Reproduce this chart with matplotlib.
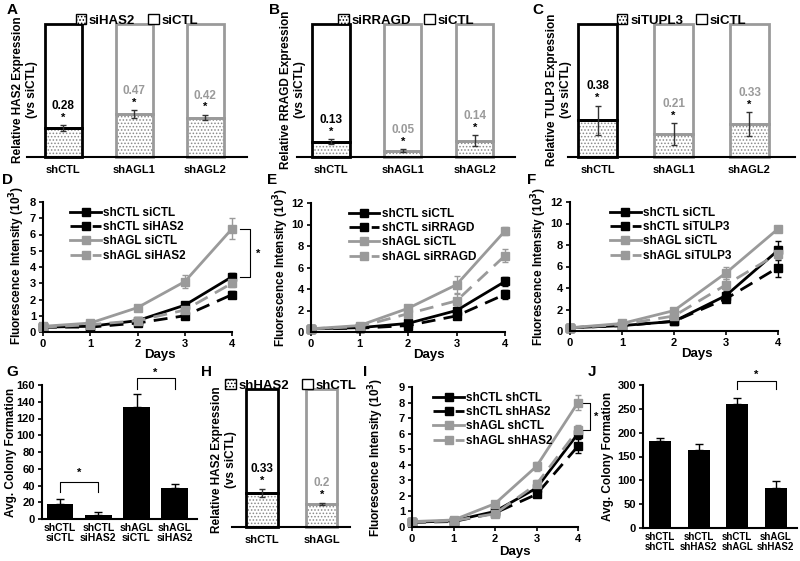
import matplotlib
matplotlib.use('Agg')
import matplotlib.pyplot as plt
from matplotlib.patches import Patch
from matplotlib.lines import Line2D
import numpy as np

plt.rcParams['font.family'] = ['Liberation Sans', 'DejaVu Sans']
plt.rcParams['font.weight'] = 'bold'
plt.rcParams['axes.labelweight'] = 'bold'
plt.rcParams['hatch.linewidth'] = 0.7

BLACK = '#000000'
GRAY = '#9a9a9a'
DOT = '#8a8a8a'
W, H = 800, 561

# ---- knockdown bars (A, B, C, H): value vs siCTL = 1 ----
kd_groups = ['shCTL', 'shAGL1', 'shAGL2']
has2_kd = [0.28, 0.47, 0.42]
has2_err = [0.02, 0.03, 0.02]
rragd_kd = [0.13, 0.05, 0.14]
rragd_err = [0.02, 0.01, 0.04]
tulp3_kd = [0.38, 0.21, 0.33]
tulp3_err = [0.11, 0.08, 0.09]
sh_groups = ['shCTL', 'shAGL']
shhas2_kd = [0.33, 0.2]
shhas2_err = [0.03, 0.01]

# ---- growth curves (D, E, F, I) ----
days = [0, 1, 2, 3, 4]
d_labels = ['shCTL siCTL', 'shCTL siHAS2', 'shAGL siCTL', 'shAGL siHAS2']
d_vals = [[0.3, 0.35, 0.7, 1.65, 3.4],
          [0.3, 0.3, 0.55, 1.0, 2.3],
          [0.35, 0.55, 1.5, 3.1, 6.35],
          [0.3, 0.45, 0.7, 1.35, 3.0]]
d_err = [[0.05, 0.05, 0.1, 0.15, 0.25],
         [0.05, 0.05, 0.05, 0.1, 0.2],
         [0.05, 0.1, 0.1, 0.4, 0.65],
         [0.05, 0.05, 0.1, 0.15, 0.2]]
e_labels = ['shCTL siCTL', 'shCTL siRRAGD', 'shAGL siCTL', 'shAGL siRRAGD']
e_vals = [[0.3, 0.4, 0.8, 2.0, 4.7],
          [0.3, 0.35, 0.6, 1.5, 3.5],
          [0.3, 0.6, 2.2, 4.4, 9.4],
          [0.3, 0.5, 1.7, 2.9, 7.1]]
e_err = [[0.1, 0.1, 0.2, 0.3, 0.4],
         [0.1, 0.1, 0.1, 0.2, 0.4],
         [0.1, 0.1, 0.3, 0.8, 0.4],
         [0.1, 0.1, 0.3, 0.6, 0.6]]
f_labels = ['shCTL siCTL', 'shCTL siTULP3', 'shAGL siCTL', 'shAGL siTULP3']
f_vals = [[0.3, 0.5, 0.9, 3.3, 7.5],
          [0.3, 0.5, 0.9, 3.0, 5.9],
          [0.3, 0.7, 1.9, 5.4, 9.5],
          [0.3, 0.6, 1.4, 4.3, 7.2]]
f_err = [[0.1, 0.1, 0.2, 0.4, 0.9],
         [0.1, 0.1, 0.2, 0.3, 0.9],
         [0.1, 0.1, 0.2, 0.6, 0.3],
         [0.1, 0.1, 0.2, 0.5, 0.5]]
i_labels = ['shCTL shCTL', 'shCTL shHAS2', 'shAGL shCTL', 'shAGL shHAS2']
i_vals = [[0.3, 0.4, 1.0, 2.5, 6.0],
          [0.3, 0.35, 0.9, 2.1, 5.2],
          [0.35, 0.45, 1.5, 3.9, 8.0],
          [0.3, 0.4, 0.85, 2.75, 6.25]]
i_err = [[0.05, 0.05, 0.1, 0.2, 0.3],
         [0.05, 0.05, 0.1, 0.2, 0.45],
         [0.05, 0.1, 0.15, 0.3, 0.5],
         [0.05, 0.05, 0.1, 0.3, 0.3]]

# ---- colony formation (G, J) ----
g_cats = ['shCTL\nsiCTL', 'shCTL\nsiHAS2', 'shAGL\nsiCTL', 'shAGL\nsiHAS2']
g_vals = [18, 5, 134, 37]
g_err = [6, 3, 15, 5]
j_cats = ['shCTL\nshCTL', 'shCTL\nshHAS2', 'shCTL\nshAGL', 'shAGL\nshHAS2']
j_vals = [183, 163, 261, 84]
j_err = [6, 13, 11, 14]

fig = plt.figure(figsize=(W / 100, H / 100), dpi=100)


def add_ax(x0, y0, x1, y1):
    return fig.add_axes([x0 / W, 1 - y1 / H, (x1 - x0) / W, (y1 - y0) / H])


def ftext(x, y, s, **kw):
    fig.text(x / W, 1 - y / H, s, **kw)


def stacked_panel(box, groups, vals, errs, legend_labels, xlim, width=0.52):
    ax = add_ax(*box)
    x = np.arange(len(groups))
    vals = np.array(vals)
    frac = vals / (1 + vals)
    edges = [BLACK] + [GRAY] * (len(groups) - 1)
    ax.bar(x, frac, width, color='white', hatch='.....', edgecolor=DOT, lw=0)
    ax.bar(x, frac, width, facecolor='none', edgecolor=edges, lw=2, clip_on=False)
    ax.bar(x, 1 - frac, width, bottom=frac, facecolor='none', edgecolor=edges,
           lw=2, clip_on=False)
    ax.errorbar(x, frac, yerr=errs, fmt='none', ecolor='#333333', capsize=2.5,
                elinewidth=1, capthick=1)
    for i in range(len(groups)):
        top = frac[i] + errs[i]
        ax.text(x[i], top + 0.02, '*', ha='center', va='bottom', fontsize=8)
        ax.text(x[i], top + 0.1, f'{vals[i]:g}', ha='center', va='bottom',
                fontsize=8.5, color=edges[i])
    ax.set_xlim(*xlim)
    ax.set_ylim(0, 1)
    ax.set_yticks([])
    ax.set_xticks(x)
    ax.set_xticklabels(groups, fontsize=8)
    ax.tick_params(axis='x', length=0, pad=6)
    for s in ['left', 'top', 'right']:
        ax.spines[s].set_visible(False)
    ax.spines['bottom'].set_linewidth(1.5)
    handles = [Patch(facecolor='white', edgecolor=BLACK, hatch='.....'),
               Patch(facecolor='white', edgecolor=BLACK)]
    ax.legend(handles, legend_labels, loc='lower center', bbox_to_anchor=(0.5, 0.98),
              ncol=2, frameon=False, fontsize=9.5, handlelength=0.8, handleheight=0.8,
              handletextpad=0.2, columnspacing=1.0, borderaxespad=0, borderpad=0)
    return ax


def line_panel(box, vals, errs, labels, ymax, ystep, days_xy, leg_x):
    ax = add_ax(*box)
    styles = [(BLACK, '-'), (BLACK, '--'), (GRAY, '-'), (GRAY, '--')]
    handles = []
    for v, e, lab, (c, ls) in zip(vals, errs, labels, styles):
        line = ax.errorbar(days, v, yerr=e, color=c, ls=ls, marker='s', ms=6, lw=2,
                           ecolor=c, elinewidth=1, capsize=2, clip_on=False)
        h = Line2D([], [], color=c, ls=ls, marker='s', ms=6, lw=2)
        if ls == '--':
            line[0].set_dashes([5, 3])
            h.set_dashes([5, 3])
        for art in line[1] + line[2]:
            art.set_clip_on(False)
        handles.append(h)
    ax.set_xlim(0, 4)
    ax.set_ylim(0, ymax)
    ax.set_xticks(days)
    ax.set_yticks(np.arange(0, ymax + 0.01, ystep))
    ax.tick_params(labelsize=8, direction='out', length=3, width=1.2, pad=2)
    for s in ['top', 'right']:
        ax.spines[s].set_visible(False)
    for s in ['left', 'bottom']:
        ax.spines[s].set_linewidth(1.5)
    ax.set_xlabel('Days', fontsize=9.5)
    ax.xaxis.set_label_coords(*days_xy)
    ax.legend(handles, labels, loc='upper left', bbox_to_anchor=(leg_x, 1.0), frameon=False,
              fontsize=8.5, handlelength=2.6, labelspacing=0.2, handletextpad=0.2,
              borderaxespad=0)
    return ax


def colony_panel(box, cats, vals, errs, ymax, ystep, xlim, width, brackets, catsize):
    ax = add_ax(*box)
    x = np.arange(len(cats))
    ax.bar(x, vals, width, color=BLACK)
    ax.errorbar(x, vals, yerr=[np.zeros(len(vals)), errs], fmt='none', ecolor=BLACK,
                capsize=3, elinewidth=1, capthick=1)
    for (a, b, yb, ya, ys) in brackets:
        ax.plot([a, a, b, b], [ya, yb, yb, ya], color=BLACK, lw=0.8, clip_on=False)
        ax.text((a + b) / 2, ys, '*', ha='center', va='center', fontsize=8)
    ax.set_xlim(*xlim)
    ax.set_ylim(0, ymax)
    ax.set_yticks(np.arange(0, ymax + 0.01, ystep))
    ax.set_xticks(x)
    ax.set_xticklabels(cats, fontsize=catsize, linespacing=1.0)
    ax.tick_params(axis='y', labelsize=8, direction='out', length=3, width=1.2, pad=2)
    ax.tick_params(axis='x', length=0, pad=3)
    for s in ['top', 'right']:
        ax.spines[s].set_visible(False)
    for s in ['left', 'bottom']:
        ax.spines[s].set_linewidth(1.5)
    return ax


# Panels A, B, C, H
stacked_panel((27, 24, 247, 157), kd_groups, has2_kd, has2_err, ['siHAS2', 'siCTL'], (-0.51, 2.59))
stacked_panel((297, 24, 515, 157), kd_groups, rragd_kd, rragd_err, ['siRRAGD', 'siCTL'], (-0.47, 2.56))
stacked_panel((568, 24, 795, 157), kd_groups, tulp3_kd, tulp3_err, ['siTUPL3', 'siCTL'], (-0.39, 2.6))
stacked_panel((232, 389, 350, 527), sh_groups, shhas2_kd, shhas2_err, ['shHAS2', 'shCTL'], (-0.5, 1.47))

# Panels D, E, F, I
axd = line_panel((43, 202, 232, 332), d_vals, d_err, d_labels, 8, 1, (0.62, -0.13), 0.12)
axd.plot([4.17, 4.38, 4.38, 4.17], [6.35, 6.35, 3.4, 3.4], color=BLACK, lw=0.8, clip_on=False)
axd.text(4.55, 4.8, '*', ha='center', va='center', fontsize=8)
line_panel((311, 203, 505, 332), e_vals, e_err, e_labels, 12, 2, (0.61, -0.13), 0.17)
line_panel((570, 202, 778, 331), f_vals, f_err, f_labels, 12, 2, (0.61, -0.13), 0.17)
axi = line_panel((412, 387, 578, 527), i_vals, i_err, i_labels, 9, 1, (0.62, -0.135), 0.1)
axi.plot([4.1, 4.28, 4.28, 4.1], [8.0, 8.0, 6.25, 6.25], color=BLACK, lw=0.8, clip_on=False)
axi.text(4.43, 7.1, '*', ha='center', va='center', fontsize=8)

# Panels G, J
colony_panel((42, 385, 197, 519), g_cats, g_vals, g_err, 160, 20, (-0.47, 3.58), 0.7,
             [(0, 1, 44, 32, 55), (2, 3, 168, 155, 175)], 7.5)
colony_panel((643, 385, 797, 528), j_cats, j_vals, j_err, 300, 50, (-0.45, 3.55), 0.58,
             [(2, 3, 308, 291, 322)], 7)

# y labels
ftext(25, 90, 'Relative HAS2 Expression\n(vs siCTL)', rotation=90, ha='center', va='center', fontsize=8.5)
ftext(293, 90, 'Relative RRAGD Expression\n(vs siCTL)', rotation=90, ha='center', va='center', fontsize=8.5)
ftext(559, 90, 'Relative TULP3 Expression\n(vs siCTL)', rotation=90, ha='center', va='center', fontsize=8.5)
ftext(224, 460, 'Relative HAS2 Expression\n(vs siCTL)', rotation=90, ha='center', va='center', fontsize=8.5)
for xx, yy in [(17, 265), (281, 267), (539, 266), (376, 457)]:
    ftext(xx, yy, 'Fluorescence Intensity (10$^3$)', rotation=90, ha='center', va='center', fontsize=8.5)
ftext(11, 452, 'Avg. Colony Formation', rotation=90, ha='center', va='center', fontsize=8.5)
ftext(608, 456, 'Avg. Colony Formation', rotation=90, ha='center', va='center', fontsize=8.5)

# panel letters
for lab, xx, yy in [('A', 12, 10), ('B', 275, 10), ('C', 538, 10), ('D', 7, 180),
                    ('E', 272, 180), ('F', 532, 180), ('G', 12, 372), ('H', 207, 372),
                    ('I', 365, 372), ('J', 592, 372)]:
    ftext(xx, yy, lab, ha='center', va='center', fontsize=11)

fig.savefig('out.png', dpi=100)
